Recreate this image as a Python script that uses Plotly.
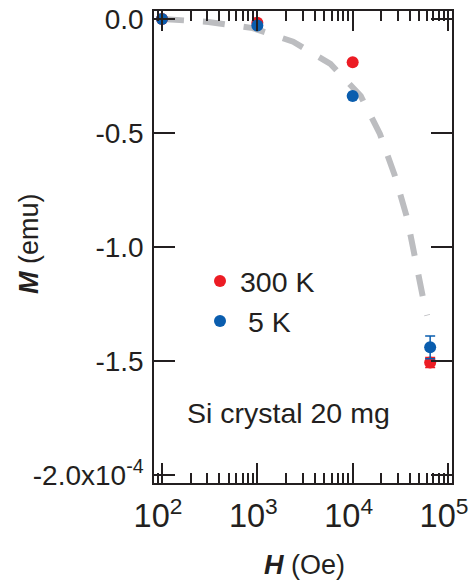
import plotly.graph_objects as go

# Data (M in units of 1e-4 emu)
H_300K = [100, 1000, 10000, 65000]
M_300K = [0.0, -0.016, -0.19, -1.507]
E_300K = [0.0, 0.0, 0.0, 0.022]

H_5K = [100, 1000, 10000, 65000]
M_5K = [0.0, -0.029, -0.338, -1.44]
E_5K = [0.0, 0.0, 0.0, 0.05]

H_guide = [100, 307, 895, 2377, 5848, 12160, 19320, 27800, 37240, 45290, 56360, 60500]
M_guide = [0.0, -0.013, -0.04, -0.10, -0.197, -0.338, -0.504, -0.689, -0.873, -1.061, -1.25, -1.30]

y_tickvals = [0.0, -0.5, -1.0, -1.5, -2.0]
y_ticktext = ["0.0", "-0.5", "-1.0", "-1.5", "-2.0x10<sup>-4</sup>"]

RED = "#EC1C24"
BLUE = "#0A5DAE"
AX = "#231F20"
FONT = "Liberation Sans, Arial, sans-serif"
X_RANGE = [1.916, 5.042]

fig = go.Figure()
fig.add_trace(go.Scatter(
    x=H_guide, y=M_guide, mode="lines", line_shape="linear",
    line=dict(color="#BCBDC0", width=6, dash="22px,19px"),
    showlegend=False, hoverinfo="skip"))
fig.add_trace(go.Scatter(
    x=H_300K, y=M_300K, mode="markers", name="300 K",
    marker=dict(color=RED, size=12),
    error_y=dict(type="data", array=E_300K, color=RED, thickness=1.5, width=5)))
fig.add_trace(go.Scatter(
    x=H_5K, y=M_5K, mode="markers", name="\u00a05 K",
    marker=dict(color=BLUE, size=12),
    error_y=dict(type="data", array=E_5K, color=BLUE, thickness=1.5, width=5)))

fig.update_layout(
    width=469, height=580, autosize=False,
    margin=dict(l=154, r=17, t=11, b=97, autoexpand=False),
    paper_bgcolor="white", plot_bgcolor="white",
    font=dict(family=FONT, size=27, color=AX),
    showlegend=True,
    legend=dict(x=(200 - 154) / 298, y=(483 - 256) / 472, xanchor="left", yanchor="top",
                bgcolor="rgba(0,0,0,0)", font=dict(size=28.5), tracegroupgap=0),
    xaxis=dict(
        type="log", range=X_RANGE, automargin=False,
        tickmode="linear", tick0=0, dtick=1,
        exponentformat="power", showexponent="all",
        ticks="inside", ticklen=20, tickwidth=1.5, tickcolor=AX,
        showline=True, linewidth=1.5, linecolor=AX, mirror="allticks",
        showgrid=False, zeroline=False, ticklabeloverflow="allow",
        tickfont=dict(size=26), ticklabelstandoff=5, ticklabelshift=-4,
        minor=dict(ticks="inside", ticklen=10, tickwidth=1.5, tickcolor=AX,
                   showgrid=False),
    ),
    yaxis=dict(
        range=[-2.035, 0.035], automargin=False,
        tickvals=y_tickvals, ticktext=y_ticktext,
        ticks="inside", ticklen=21, tickwidth=1.5, tickcolor=AX,
        showline=True, linewidth=1.5, linecolor=AX, mirror="allticks",
        showgrid=False, zeroline=False,
        tickfont=dict(size=28), ticklabelstandoff=3,
    ),
    annotations=[
        dict(text="Si crystal 20 mg", xref="paper", yref="paper",
             x=(288 - 154) / 298, y=(483 - 413) / 472, xanchor="center", yanchor="middle",
             showarrow=False, font=dict(size=28.5, color=AX)),
        dict(text="<b><i>M</i></b> (emu)", xref="paper", yref="paper",
             x=(29 - 154) / 298, y=(483 - 244) / 472, xanchor="center", yanchor="middle",
             textangle=-90, showarrow=False, font=dict(size=27, color=AX)),
        dict(text="<b><i>H</i></b> (Oe)", xref="paper", yref="paper",
             x=(304 - 154) / 298, y=(483 - 565) / 472, xanchor="center", yanchor="middle",
             showarrow=False, font=dict(size=27, color=AX)),
    ],
)

fig.write_html("out.html")
